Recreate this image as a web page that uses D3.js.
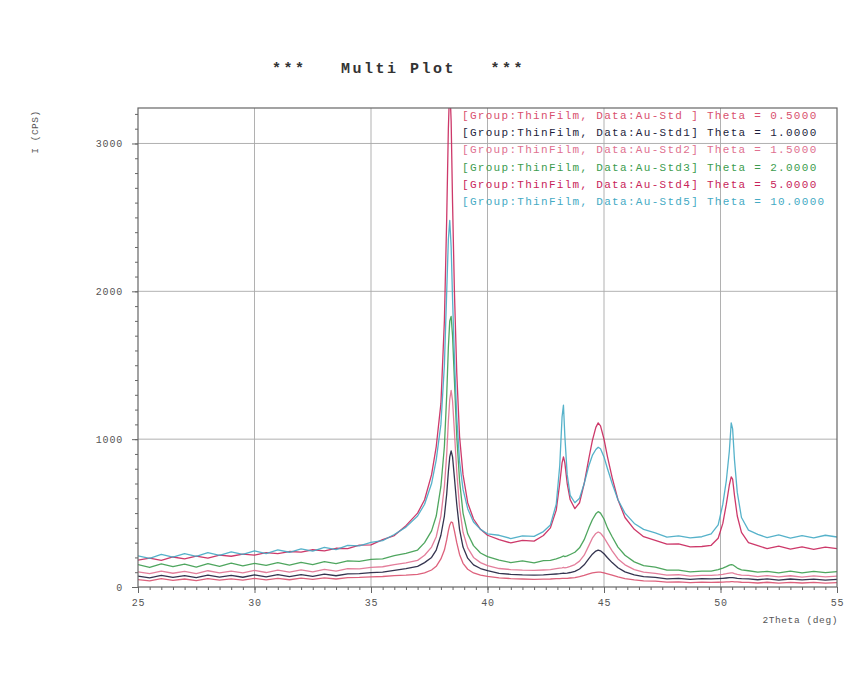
<!DOCTYPE html>
<html>
<head>
<meta charset="utf-8">
<script src="https://cdn.jsdelivr.net/npm/d3@7"></script>
<style>
  html, body { margin: 0; padding: 0; background: #ffffff; }
  svg { display: block; }
  text { font-family: "Liberation Mono", "DejaVu Sans Mono", monospace; }
</style>
</head>
<body>
<svg id="chart" width="865" height="674"></svg>
<script>
// ---------- DATA ----------
const title = "***   Multi Plot   ***";
const xLabel = "2Theta (deg)";
const yLabel = "I (CPS)";
const xTicks = [25, 30, 35, 40, 45, 50, 55];
const yTicks = [0, 1000, 2000, 3000];

const twoTheta = [25,25.5,26,26.5,27,27.5,28,28.5,29,29.5,30,30.5,31,31.5,32,32.5,33,33.5,34,34.5,35,35.5,36,36.5,
  37,37.3,37.6,37.8,38,38.15,38.25,38.32,38.38,38.44,38.5,38.58,38.68,38.8,38.95,39.15,39.4,39.7,40,
  40.5,41,41.5,42,42.4,42.7,42.95,43.1,43.2,43.26,43.32,43.42,43.55,43.75,43.95,44.15,44.35,44.5,44.65,44.75,
  44.85,45,45.15,45.35,45.6,45.9,46.3,46.7,47.2,47.7,48.2,48.7,49.2,49.6,49.9,50.1,50.25,50.38,50.46,50.52,
  50.6,50.72,50.9,51.2,51.6,52,52.5,53,53.5,54,54.5,55];

const std0 = [50,42,56,45,54,43,57,46,55,47,58,48,59,49,60,52,62,54,63,65,69,71,77,80,
  85,95,115,140,190,250,320,380,420,440,435,380,300,220,160,120,95,80,72,
  62,57,54,52,53,54,56,57,58,58,58,59,61,64,70,78,88,95,99,101,100,96,89,80,68,57,48,42,40,33,
  35,30,33,31,32,33,34,35,36,36,35,34,32,31,27,32,26,31,27,31,26,30];

const std1 = [74,62,78,65,77,63,80,67,78,66,82,68,83,70,84,72,87,76,89,90,97,100,112,124,
  140,165,200,250,350,480,630,780,880,920,880,740,560,390,270,195,150,125,110,
  92,86,82,80,82,85,88,90,92,93,92,94,98,106,122,150,192,222,243,250,245,225,198,165,130,102,82,70,65,55,
  59,52,57,55,57,59,61,63,64,64,62,59,56,55,49,55,47,54,48,53,47,52];

const std2 = [103,90,108,93,106,91,110,96,108,95,112,98,114,101,116,103,119,108,124,122,133,137,152,163,
  180,215,270,340,480,680,900,1120,1270,1330,1260,1050,780,540,370,265,200,165,145,
  125,118,114,112,115,118,124,128,130,132,130,133,140,152,175,215,280,330,362,372,365,335,295,245,190,150,118,100,92,81,
  83,74,79,78,82,86,90,94,96,95,91,86,80,78,70,77,68,76,67,75,68,73];

const std3 = [152,132,157,138,155,135,158,140,161,143,160,146,165,148,167,152,171,158,177,173,187,190,212,228,
  250,300,380,480,680,950,1300,1620,1800,1830,1700,1400,1020,720,500,360,280,230,205,
  182,165,177,163,178,180,190,198,205,210,206,210,220,235,265,320,400,455,495,510,500,460,400,340,270,215,170,145,134,114,
  114,102,108,108,118,128,138,148,152,150,142,128,116,110,100,106,96,108,96,106,97,104];

const std4 = [182,196,180,203,190,209,196,215,208,223,216,233,226,240,236,252,244,262,260,283,285,320,348,415,
  500,590,760,950,1240,1800,2500,3100,3400,3150,2600,2000,1450,1020,760,570,460,390,350,
  320,298,316,310,348,400,520,700,840,880,840,700,590,530,570,700,870,990,1080,1110,1090,1000,880,740,590,470,390,340,316,290,
  292,272,274,282,330,430,560,690,745,730,620,480,370,300,280,260,276,256,272,254,270,260];

const std5 = [210,194,220,202,226,207,232,214,238,221,244,226,251,235,258,243,268,253,281,278,302,314,355,405,
  480,560,700,860,1100,1500,2000,2350,2480,2300,1950,1550,1150,850,660,530,440,390,360,
  350,328,346,342,375,420,560,820,1150,1230,1020,760,620,570,600,700,820,890,930,945,935,880,800,700,590,500,430,390,366,338,
  346,332,340,360,420,560,720,920,1110,1070,860,640,470,385,356,334,352,330,348,332,350,338];

const seriesLabels = [
  "[Group:ThinFilm, Data:Au-Std ] Theta = 0.5000",
  "[Group:ThinFilm, Data:Au-Std1] Theta = 1.0000",
  "[Group:ThinFilm, Data:Au-Std2] Theta = 1.5000",
  "[Group:ThinFilm, Data:Au-Std3] Theta = 2.0000",
  "[Group:ThinFilm, Data:Au-Std4] Theta = 5.0000",
  "[Group:ThinFilm, Data:Au-Std5] Theta = 10.0000"
];
const seriesColors = ["#d9506e", "#1e1e3c", "#e07090", "#3c9c4e", "#c8245a", "#44aac4"];
const seriesValues = [std0, std1, std2, std3, std4, std5];

// ---------- LAYOUT ----------
const svg = d3.select("#chart");
svg.append("rect").attr("width", 865).attr("height", 674).attr("fill", "#ffffff");

const L = 138, R = 837, T = 108, B = 587;
const x = d3.scaleLinear().domain([25, 55]).range([L, R]);
const y = d3.scaleLinear().domain([0, 3240]).range([B, T]);

// grid
const grid = svg.append("g").attr("stroke", "#a8a8a8").attr("stroke-width", 0.9);
grid.selectAll("line.vx").data(xTicks.slice(1, -1)).join("line")
  .attr("x1", d => x(d)).attr("x2", d => x(d)).attr("y1", T).attr("y2", B);
grid.selectAll("line.hy").data(yTicks.slice(1)).join("line")
  .attr("y1", d => y(d)).attr("y2", d => y(d)).attr("x1", L).attr("x2", R);

// ticks
const axColor = "#666";
const xMinor = d3.axisBottom(x).tickValues(d3.range(25, 55.001, 0.5)).tickSize(3).tickFormat("");
const xMajor = d3.axisBottom(x).tickValues(xTicks).tickSize(6).tickPadding(6).tickFormat(d3.format("d"));
const yMinor = d3.axisLeft(y).tickValues(d3.range(0, 3201, 100)).tickSize(3).tickFormat("");
const yMajor = d3.axisLeft(y).tickValues(yTicks).tickSize(6).tickPadding(9).tickFormat(d3.format("d"));

function styleAxis(g) {
  g.select(".domain").remove();
  g.selectAll("line").attr("stroke", axColor);
  g.selectAll("text").attr("fill", "#555").attr("font-size", 10)
   .attr("font-family", "Liberation Mono, monospace").style("letter-spacing", "0.8px");
}
svg.append("g").attr("transform", `translate(0,${B})`).call(xMinor).call(styleAxis);
svg.append("g").attr("transform", `translate(0,${B})`).call(xMajor).call(styleAxis);
svg.append("g").attr("transform", `translate(${L},0)`).call(yMinor).call(styleAxis);
svg.append("g").attr("transform", `translate(${L},0)`).call(yMajor).call(styleAxis);

// clip
svg.append("clipPath").attr("id", "plotclip").append("rect")
  .attr("x", L).attr("y", T).attr("width", R - L).attr("height", B - T);

// lines
const line = d3.line().x((d, i) => x(twoTheta[i])).y(d => y(d));
const lines = svg.append("g").attr("clip-path", "url(#plotclip)");
lines.selectAll("path").data(seriesValues).join("path")
  .attr("d", d => line(d))
  .attr("fill", "none")
  .attr("stroke", (d, i) => seriesColors[i])
  .attr("stroke-width", 1.3)
  .attr("stroke-linejoin", "round")
  .attr("opacity", 0.9);

// frame
svg.append("rect").attr("x", L).attr("y", T).attr("width", R - L).attr("height", B - T)
  .attr("fill", "none").attr("stroke", "#666").attr("stroke-width", 1.2);

// legend
svg.append("g").selectAll("text").data(seriesLabels).join("text")
  .attr("x", 462)
  .attr("y", (d, i) => 119 + i * 17.2)
  .attr("fill", (d, i) => seriesColors[i])
  .attr("font-size", 11)
  .style("letter-spacing", "1.3px")
  .style("white-space", "pre")
  .text(d => d);

// title
svg.append("text").attr("x", 272).attr("y", 73)
  .attr("font-size", 15).attr("font-weight", "bold").attr("fill", "#333")
  .style("letter-spacing", "2.5px").style("white-space", "pre")
  .text(title);

// axis labels
svg.append("text").attr("x", 838).attr("y", 623).attr("text-anchor", "end")
  .attr("font-size", 9.5).attr("fill", "#555").style("letter-spacing", "0.6px")
  .style("white-space", "pre").text(xLabel);
svg.append("text").attr("transform", "translate(38,132) rotate(-90)").attr("text-anchor", "middle")
  .attr("font-size", 9.5).attr("fill", "#555").style("letter-spacing", "0.5px")
  .style("white-space", "pre").text(yLabel);
</script>
</body>
</html>
